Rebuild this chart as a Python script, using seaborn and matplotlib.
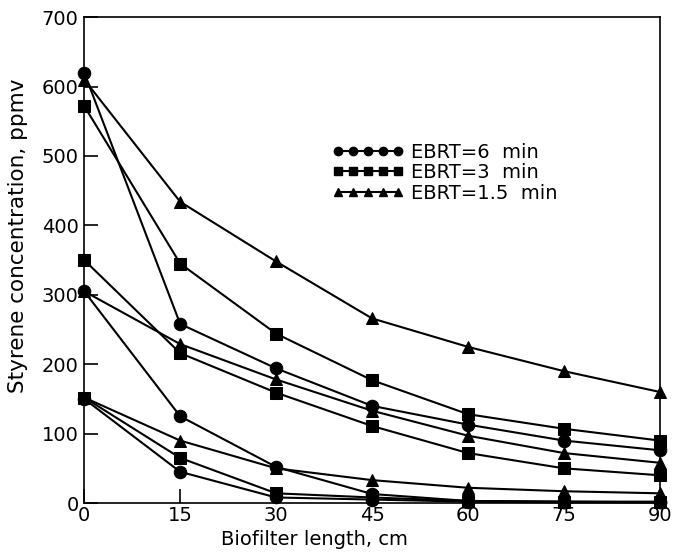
import pandas as pd
import matplotlib
matplotlib.use("Agg")
import matplotlib.pyplot as plt
from matplotlib.lines import Line2D
import seaborn as sns

# Biofilter length (cm)
length = [0, 15, 30, 45, 60, 75, 90]

# Styrene concentration (ppmv)
ebrt6_high = [620, 258, 194, 140, 113, 90, 76]
ebrt6_mid = [305, 125, 52, 13, 3, 2, 1]
ebrt6_low = [150, 45, 8, 5, 2, 1, 1]

ebrt3_high = [572, 345, 244, 177, 128, 107, 90]
ebrt3_mid = [350, 216, 159, 111, 72, 50, 40]
ebrt3_low = [152, 65, 14, 8, 3, 2, 2]

ebrt15_high = [610, 434, 348, 266, 225, 190, 160]
ebrt15_mid = [305, 229, 178, 133, 97, 72, 58]
ebrt15_low = [152, 90, 50, 33, 22, 17, 14]

series = {
    ("EBRT=6  min", "high"): ebrt6_high,
    ("EBRT=6  min", "mid"): ebrt6_mid,
    ("EBRT=6  min", "low"): ebrt6_low,
    ("EBRT=3  min", "high"): ebrt3_high,
    ("EBRT=3  min", "mid"): ebrt3_mid,
    ("EBRT=3  min", "low"): ebrt3_low,
    ("EBRT=1.5  min", "high"): ebrt15_high,
    ("EBRT=1.5  min", "mid"): ebrt15_mid,
    ("EBRT=1.5  min", "low"): ebrt15_low,
}

rows = []
for (ebrt, level), vals in series.items():
    for x, y in zip(length, vals):
        rows.append({"length": x, "conc": y, "ebrt": ebrt, "run": ebrt + level})
df = pd.DataFrame(rows)

labels = ["EBRT=6  min", "EBRT=3  min", "EBRT=1.5  min"]
markers = {"EBRT=6  min": "o", "EBRT=3  min": "s", "EBRT=1.5  min": "^"}

sns.set_style("ticks")
plt.rcParams["font.family"] = ["DejaVu Sans"]
plt.rcParams["text.color"] = "black"
plt.rcParams["axes.labelcolor"] = "black"

fig, ax = plt.subplots(figsize=(6.74, 5.54), dpi=100)
fig.subplots_adjust(left=0.125, right=0.979, top=0.969, bottom=0.092)

sns.lineplot(data=df, x="length", y="conc", style="ebrt", units="run",
             estimator=None, markers=markers, dashes=False, color="black",
             linewidth=1.5, markersize=9, markeredgecolor="black",
             legend=False, ax=ax, sort=False)

ax.set_xlim(0, 90)
ax.set_ylim(0, 700)
ax.set_xticks(length)
ax.set_yticks(range(0, 701, 100))
ax.tick_params(direction="in", length=10, width=1.2, labelsize=14, pad=2,
               colors="black", labelcolor="black")
ax.tick_params(axis="y", pad=4)
for s in ax.spines.values():
    s.set_visible(True)
    s.set_linewidth(1.2)
    s.set_color("black")
for m in ax.get_children():
    if isinstance(m, Line2D):
        m.set_clip_on(False)

ax.set_xlabel("Biofilter length, cm", fontsize=14, labelpad=1, color="black")
ax.xaxis.set_label_coords(0.40, -0.055)
ax.set_ylabel("Styrene concentration, ppmv", fontsize=15.5, color="black")
ax.yaxis.set_label_coords(-0.097, 0.55)

handles = [Line2D([], [], color="black", marker=markers[l], markersize=6,
                  linewidth=1.5) for l in labels]
ax.legend(handles, labels, numpoints=5, frameon=False, fontsize=14,
          loc="upper left", bbox_to_anchor=(0.413, 0.762), handlelength=3.7,
          handletextpad=0.4, labelspacing=0.08, borderpad=0)

fig.savefig("out.png", dpi=100)
